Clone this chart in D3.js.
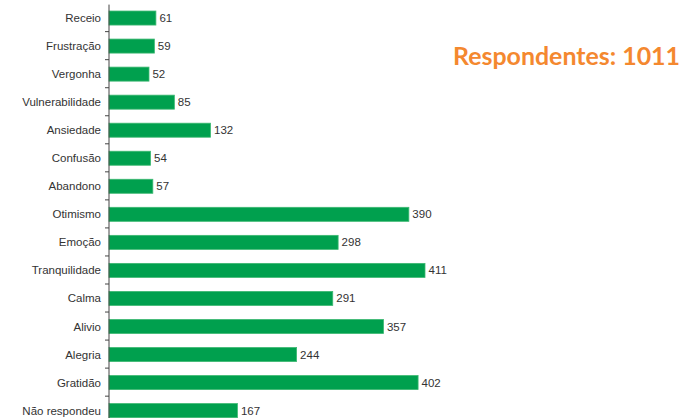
<!DOCTYPE html>
<html>
<head>
<meta charset="utf-8">
<script src="https://cdn.jsdelivr.net/npm/d3@7"></script>
<style>
  html, body { margin: 0; padding: 0; background: #fff; }
  svg { display: block; }
</style>
</head>
<body>
<svg id="chart" width="697" height="418"></svg>
<script>
const categories = ["Receio", "Frustração", "Vergonha", "Vulnerabilidade", "Ansiedade", "Confusão", "Abandono", "Otimismo", "Emoção", "Tranquilidade", "Calma", "Alivio", "Alegria", "Gratidão", "Não respondeu"];
const values = [61, 59, 52, 85, 132, 54, 57, 390, 298, 411, 291, 357, 244, 402, 167];
const title = "Respondentes: 1011";

const svg = d3.select("#chart");
const axisX = 109;
const step = 28.04;
const plotTop = 3.6;

const y = d3.scaleBand()
  .domain(categories)
  .range([plotTop, plotTop + step * categories.length])
  .paddingInner(0).paddingOuter(0);

const x = d3.scaleLinear().domain([0, 411]).range([axisX, 425]);

const bw = y.bandwidth();
const barOff = bw * 0.265;
const barH = bw * 0.5;

// bars
svg.append("g").selectAll("rect")
  .data(categories)
  .join("rect")
  .attr("x", x(0))
  .attr("y", d => y(d) + barOff)
  .attr("width", (d, i) => x(values[i]) - x(0))
  .attr("height", barH)
  .attr("fill", "#00a04e")
  .attr("stroke", "#3db872")
  .attr("stroke-width", 0.8);

// axis line and ticks
const ag = svg.append("g");
ag.append("line")
  .attr("x1", axisX).attr("x2", axisX)
  .attr("y1", y.range()[0] + 1).attr("y2", 418)
  .attr("stroke", "#444").attr("stroke-width", 1);
ag.selectAll("line.tick")
  .data(categories.slice(1))
  .join("line")
  .attr("class", "tick")
  .attr("x1", axisX - 4).attr("x2", axisX)
  .attr("y1", d => y(d)).attr("y2", d => y(d))
  .attr("stroke", "#444").attr("stroke-width", 1);

// category labels
svg.append("g").selectAll("text")
  .data(categories)
  .join("text")
  .attr("x", axisX - 8)
  .attr("y", d => y(d) + barOff + barH / 2)
  .attr("dy", "0.35em")
  .attr("text-anchor", "end")
  .attr("font-family", "Liberation Sans, Arial, sans-serif")
  .attr("font-size", 11.5)
  .attr("fill", "#333")
  .text(d => d);

// value labels
svg.append("g").selectAll("text")
  .data(categories)
  .join("text")
  .attr("x", (d, i) => x(values[i]) + 3.5)
  .attr("y", d => y(d) + barOff + barH / 2)
  .attr("dy", "0.35em")
  .attr("font-family", "Liberation Sans, Arial, sans-serif")
  .attr("font-size", 11.5)
  .attr("fill", "#333")
  .text((d, i) => values[i]);

// title
svg.append("text")
  .attr("x", 453)
  .attr("y", 65)
  .attr("font-family", "Lato, 'Open Sans', sans-serif")
  .attr("font-weight", "bold")
  .attr("font-size", 25)
  .attr("fill", "#f4882f")
  .attr("textLength", 227)
  .attr("lengthAdjust", "spacingAndGlyphs")
  .text(title);
</script>
</body>
</html>
